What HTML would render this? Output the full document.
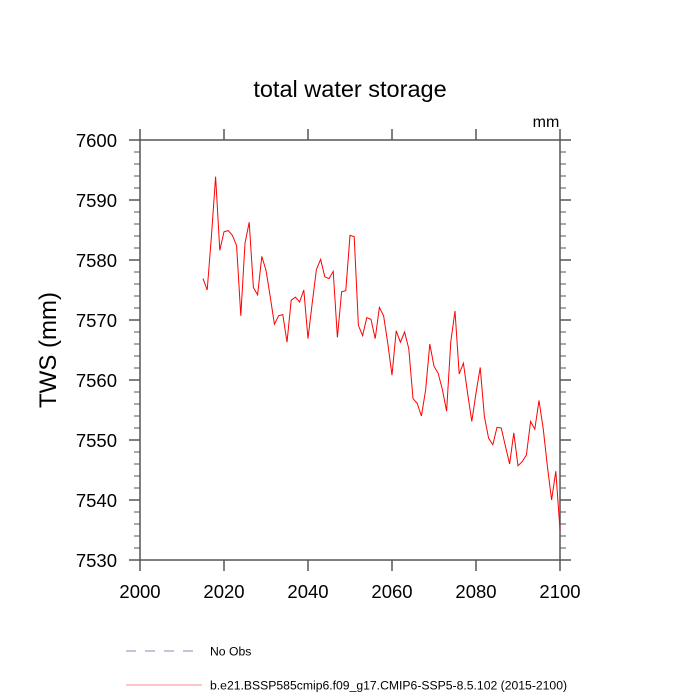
<!DOCTYPE html>
<html><head><meta charset="utf-8"><style>
body{margin:0;background:#fff}
svg{display:block;font-family:"Liberation Sans",Arial,sans-serif}
</style></head><body>
<svg id="chart" width="700" height="700" viewBox="0 0 700 700">
<text x="350" y="97" text-anchor="middle" font-size="23.5">total water storage</text>
<text x="546" y="127" text-anchor="middle" font-size="16">mm</text>
<text transform="translate(56,350) rotate(-90)" text-anchor="middle" font-size="24">TWS  (mm)</text>
<g id="axes"></g>
<g id="series"></g>
<g>
<line x1="126" y1="651" x2="200" y2="651" stroke="#8888bb" stroke-width="1" stroke-dasharray="10,9"/>
<text x="210" y="655.5" font-size="12.2">No Obs</text>
<line x1="126" y1="685" x2="202" y2="685" stroke="#ff8888" stroke-width="1"/>
<text x="210" y="689.5" font-size="12.2">b.e21.BSSP585cmip6.f09_g17.CMIP6-SSP5-8.5.102 (2015-2100)</text>
</g>
</svg>
<script>
const years=[2015,2016,2017,2018,2019,2020,2021,2022,2023,2024,2025,2026,2027,2028,2029,2030,2031,2032,2033,2034,2035,2036,2037,2038,2039,2040,2041,2042,2043,2044,2045,2046,2047,2048,2049,2050,2051,2052,2053,2054,2055,2056,2057,2058,2059,2060,2061,2062,2063,2064,2065,2066,2067,2068,2069,2070,2071,2072,2073,2074,2075,2076,2077,2078,2079,2080,2081,2082,2083,2084,2085,2086,2087,2088,2089,2090,2091,2092,2093,2094,2095,2096,2097,2098,2099,2100];
const tws=[7576.9,7575.0,7583.9,7593.9,7581.6,7584.7,7584.9,7584.1,7582.4,7570.7,7582.8,7586.3,7575.4,7574.2,7580.6,7578.3,7573.9,7569.3,7570.7,7570.9,7566.3,7573.3,7573.8,7573.0,7575.0,7566.9,7572.8,7578.4,7580.1,7577.2,7576.9,7578.1,7567.1,7574.7,7574.9,7584.1,7583.9,7569.1,7567.4,7570.4,7570.1,7566.9,7572.1,7570.7,7566.1,7560.8,7568.2,7566.3,7568.0,7565.2,7556.9,7556.1,7554.0,7558.3,7566.0,7562.3,7561.1,7558.4,7554.8,7566.4,7571.5,7561.0,7562.8,7557.8,7553.1,7557.8,7562.1,7553.9,7550.3,7549.2,7552.1,7552.0,7549.0,7546.0,7551.2,7545.7,7546.4,7547.5,7553.1,7551.8,7556.6,7551.9,7545.6,7540.0,7544.8,7535.0];
const xTicks=[2000,2020,2040,2060,2080,2100];
const yTicks=[7530,7540,7550,7560,7570,7580,7590,7600];
const L=140,R=560,T=140,B=560,X0=2000,X1=2100,Y0=7530,Y1=7600;
const sx=v=>L+(v-X0)/(X1-X0)*(R-L);
const sy=v=>B-(v-Y0)/(Y1-Y0)*(B-T);
const NS='http://www.w3.org/2000/svg';
const ax=document.getElementById('axes');
function mk(tag,a,p){const e=document.createElementNS(NS,tag);for(const k in a)e.setAttribute(k,a[k]);p.appendChild(e);return e;}
const frame=mk('rect',{x:L,y:T,width:R-L,height:B-T,fill:'none',stroke:'#555','stroke-width':1.5},ax);


xTicks.forEach(v=>{
  const x=sx(v);
  const t1=mk('line',{x1:x,y1:B,x2:x,y2:B+11,stroke:'#555','stroke-width':1.5},ax);
  
  
  const t2=mk('line',{x1:x,y1:T,x2:x,y2:T-11,stroke:'#555','stroke-width':1.5},ax);
  
  
  const lb=mk('text',{x:x,y:B+38,'text-anchor':'middle','font-size':18.5},ax);
  lb.textContent=v;
  
  
});
for(let v=Y0;v<=Y1;v+=2){
  const y=sy(v);const major=(v%10===0);const len=major?11:6;
  const a=mk('line',{x1:L,y1:y,x2:L-len,y2:y,stroke:'#555','stroke-width':major?1.5:1},ax);
  
  
  const b=mk('line',{x1:R,y1:y,x2:R+len,y2:y,stroke:'#555','stroke-width':major?1.5:1},ax);
  
  
}
yTicks.forEach(v=>{
  const lb=mk('text',{x:L-23,y:sy(v)+7,'text-anchor':'end','font-size':18.5},ax);
  lb.textContent=v;
  
  
});
const pts=years.map((yr,i)=>sx(yr).toFixed(1)+','+sy(tws[i]).toFixed(1)).join(' ');
const line=mk('polyline',{points:pts,fill:'none',stroke:'#ff0000','stroke-width':1},document.getElementById('series'));


</script>
</body></html>
